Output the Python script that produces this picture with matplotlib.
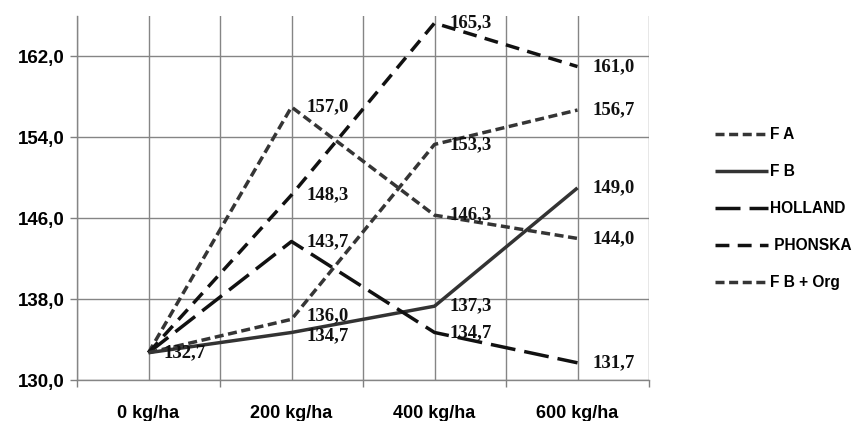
import numpy as np
import matplotlib
matplotlib.use("Agg")
import matplotlib.pyplot as plt

plt.rcParams['lines.scale_dashes'] = False

categories = ['0 kg/ha', '200 kg/ha', '400 kg/ha', '600 kg/ha']
fa = [132.7, 157.0, 146.3, 144.0]
fb = [132.7, 134.7, 137.3, 149.0]
holland = [132.7, 143.7, 134.7, 131.7]
phonska = [132.7, 148.3, 165.3, 161.0]
fb_org = [132.7, 136.0, 153.3, 156.7]

series = [
    ('F A', fa, '#353535', (0, (6.5, 3.3))),
    ('F B', fb, '#333333', '-'),
    ('HOLLAND', holland, '#111111', (0, (18, 6.5))),
    (' PHONSKA', phonska, '#111111', (0, (10, 6))),
    ('F B + Org', fb_org, '#353535', (0, (6.5, 3.3))),
]

fig = plt.figure(figsize=(8.58, 4.21), dpi=100)
ax = fig.add_axes([77 / 858, 1 - 380 / 421, (649 - 77) / 858, (380 - 16) / 421])

x = np.arange(len(categories))
for name, vals, col, ls in series:
    ax.plot(x, vals, color=col, linestyle=ls, linewidth=2.5, label=name,
            solid_capstyle='butt', dash_capstyle='butt')
    for xi, v in zip(x, vals):
        if xi == 0 and name != 'F A':
            continue
        dy = 0
        # two labels at 200 kg/ha sit almost on top of each other
        if xi == 1 and name == 'F B + Org':
            dy = 2.5
        if xi == 1 and name == 'F B':
            dy = -2.5
        ax.annotate(f'{v:.1f}'.replace('.', ','), (xi, v), xytext=(11, dy),
                    textcoords='offset points', ha='left', va='center',
                    fontsize=13.5, fontfamily='Liberation Serif', fontweight='bold',
                    color='#111111')

ax.set_xlim(-0.5, 3.5)
ax.set_ylim(130, 166)
ax.set_yticks([130, 138, 146, 154, 162])
ax.set_yticklabels([f'{v:.1f}'.replace('.', ',') for v in [130, 138, 146, 154, 162]],
                   fontsize=13.5, fontfamily='Liberation Sans', fontweight='bold')
ax.set_xticks(x)
ax.set_xticklabels(categories, fontsize=13, fontfamily='Liberation Sans', fontweight='bold')
ax.set_xticks(np.arange(-0.5, 4, 1), minor=True)
ax.tick_params(axis='x', which='major', length=0, pad=18)
ax.tick_params(axis='x', which='minor', length=5, color='#808080', width=1)
ax.tick_params(axis='y', length=5, color='#808080', width=1, pad=4)
ax.grid(True, which='both', axis='x', color='#858585', linewidth=1)
ax.grid(True, which='major', axis='y', color='#858585', linewidth=1)
ax.set_axisbelow(True)
for s in ['top', 'right']:
    ax.spines[s].set_visible(False)
for s in ['left', 'bottom']:
    ax.spines[s].set_color('#858585')
    ax.spines[s].set_linewidth(1)

leg = fig.legend(loc='upper left', bbox_to_anchor=(715 / 858, 1 - 127 / 421),
                 frameon=False, handlelength=3.4, handletextpad=0.12,
                 labelspacing=1.42, borderpad=0, borderaxespad=0,
                 prop={'family': 'Liberation Sans', 'weight': 'bold', 'size': 11.2})

fig.savefig('out.png', dpi=100)
